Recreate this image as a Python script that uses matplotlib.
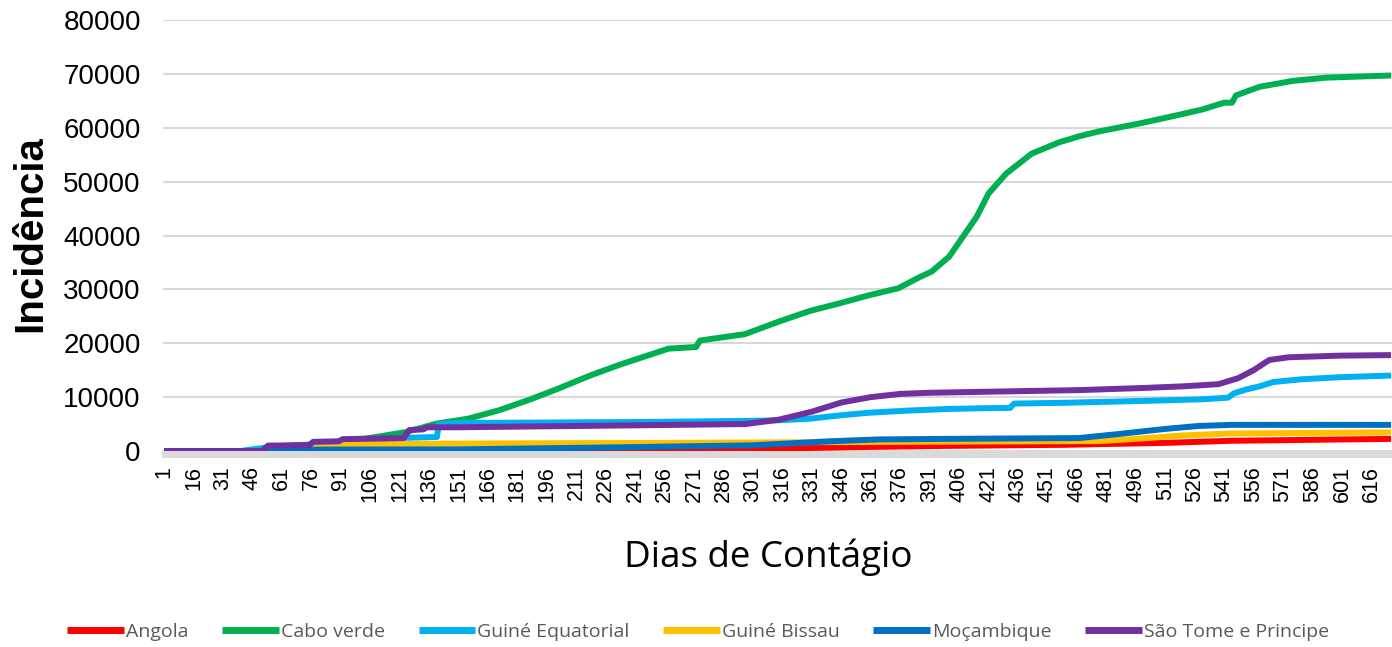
import matplotlib.pyplot as plt
from matplotlib.ticker import FixedLocator

# number of days on the category axis
n_days = 626

# values (day, cumulative cases)
angola_days = [1, 150, 250, 300, 350, 400, 460, 510, 545, 626]
angola_vals = [0, 0, 100, 350, 700, 950, 1150, 1500, 1900, 2250]

cabo_days = [1, 45, 60, 75, 90, 100, 109, 124, 140, 156, 172, 187, 202, 218, 233, 248,
             258, 272, 274, 297, 314, 330, 345, 360, 375, 386, 392, 401, 408, 415, 421,
             430, 443, 457, 467, 477, 498, 518, 530, 537, 541, 545, 547, 559, 576, 593, 626]
cabo_vals = [0, 0, 600, 1000, 1600, 2100, 2600, 3500, 5100, 6000, 7600, 9500, 11600, 14000,
             16000, 17800, 19000, 19300, 20500, 21700, 24000, 26000, 27400, 28900, 30200,
             32300, 33300, 36100, 39800, 43500, 47800, 51500, 55200, 57300, 58400, 59300,
             60800, 62400, 63400, 64200, 64650, 64650, 66000, 67600, 68700, 69300, 69700]

gq_days = [1, 40, 50, 60, 75, 90, 105, 120, 140, 141, 150, 250, 300, 314, 330, 345, 360,
           380, 400, 420, 432, 434, 460, 500, 530, 543, 546, 552, 559, 566, 580, 600, 626]
gq_vals = [0, 0, 500, 900, 1200, 1600, 1900, 2400, 2600, 5000, 5200, 5400, 5600, 5700,
           6000, 6600, 7100, 7500, 7800, 7950, 8000, 8800, 8950, 9300, 9600, 9900, 10700,
           11400, 12000, 12800, 13300, 13700, 14000]

gb_days = [1, 74, 76, 89, 91, 160, 250, 314, 340, 375, 477, 494, 520, 545, 626]
gb_vals = [0, 0, 800, 850, 1200, 1400, 1500, 1600, 1650, 1700, 1850, 2200, 2900, 3250, 3450]

moz_days = [1, 52, 54, 150, 236, 300, 314, 340, 365, 400, 467, 486, 511, 528, 545, 626]
moz_vals = [0, 0, 250, 300, 700, 1050, 1300, 1800, 2150, 2250, 2400, 3100, 4100, 4650,
            4850, 4850]

stp_days = [1, 51, 54, 75, 77, 90, 92, 123, 126, 133, 135, 150, 200, 250, 297, 314, 331,
            346, 361, 376, 390, 420, 467, 500, 520, 538, 548, 556, 564, 574, 600, 626]
stp_vals = [0, 0, 1000, 1100, 1700, 1800, 2200, 2400, 3900, 4000, 4400, 4400, 4600, 4800,
            5000, 5800, 7300, 9000, 10000, 10600, 10800, 11000, 11300, 11700, 12000, 12400,
            13500, 15000, 16900, 17400, 17700, 17800]

series = [
    ("Angola", angola_days, angola_vals, "#FF0000"),
    ("Cabo verde", cabo_days, cabo_vals, "#00B050"),
    ("Guiné Equatorial", gq_days, gq_vals, "#00B0F0"),
    ("Guiné Bissau", gb_days, gb_vals, "#FFC000"),
    ("Moçambique", moz_days, moz_vals, "#0070C0"),
    ("São Tome e Principe", stp_days, stp_vals, "#7030A0"),
]

fig = plt.figure(figsize=(13.92, 6.47), dpi=100)
ax = fig.add_axes([163 / 1392, 1 - 451 / 647, 1 - 163 / 1392, (451 - 20) / 647])

for name, d, v, c in series:
    ax.plot(d, v, color=c, lw=4.3, label=name, solid_capstyle="butt", solid_joinstyle="round")

ax.set_xlim(0.5, n_days + 0.5)
ax.set_ylim(0, 80000)
ax.set_yticks(range(0, 80001, 10000))
ax.grid(axis="y", color="#D9D9D9", lw=1.5)
ax.set_axisbelow(True)
for s in ax.spines.values():
    s.set_visible(False)

ax.set_xticks(range(1, n_days + 1, 15))
ax.set_xticklabels([str(i) for i in range(1, n_days + 1, 15)], rotation=90,
                   fontsize=15.5, family="Liberation Sans")
ax.xaxis.set_minor_locator(FixedLocator([i + 0.5 for i in range(0, n_days + 1)]))
ax.tick_params(axis="x", which="major", length=0, pad=11)
ax.tick_params(axis="x", which="minor", length=5, width=1.4, color="#D9D9D9")
ax.tick_params(axis="y", length=0, pad=16)
for t in ax.get_yticklabels():
    t.set_fontsize(20)
    t.set_family("Liberation Sans")

fig.text(30 / 1392, 1 - 234 / 647, "Incidência", rotation=90, ha="center", va="center",
         fontsize=29, fontweight="bold", family="Liberation Sans")
fig.text(768 / 1392, 1 - 557 / 647, "Dias de Contágio", ha="center", va="center",
         fontsize=26.5, family="Open Sans", color="#000000")

leg = fig.legend(loc="center", bbox_to_anchor=(698 / 1392, 1 - 632 / 647), ncol=6,
                 frameon=False, prop={"family": "Open Sans", "size": 14},
                 labelcolor="#595959", handlelength=2.9, handletextpad=0.1,
                 columnspacing=1.75)
for h in leg.get_lines():
    h.set_linewidth(5)

fig.savefig("out.png", dpi=100)
